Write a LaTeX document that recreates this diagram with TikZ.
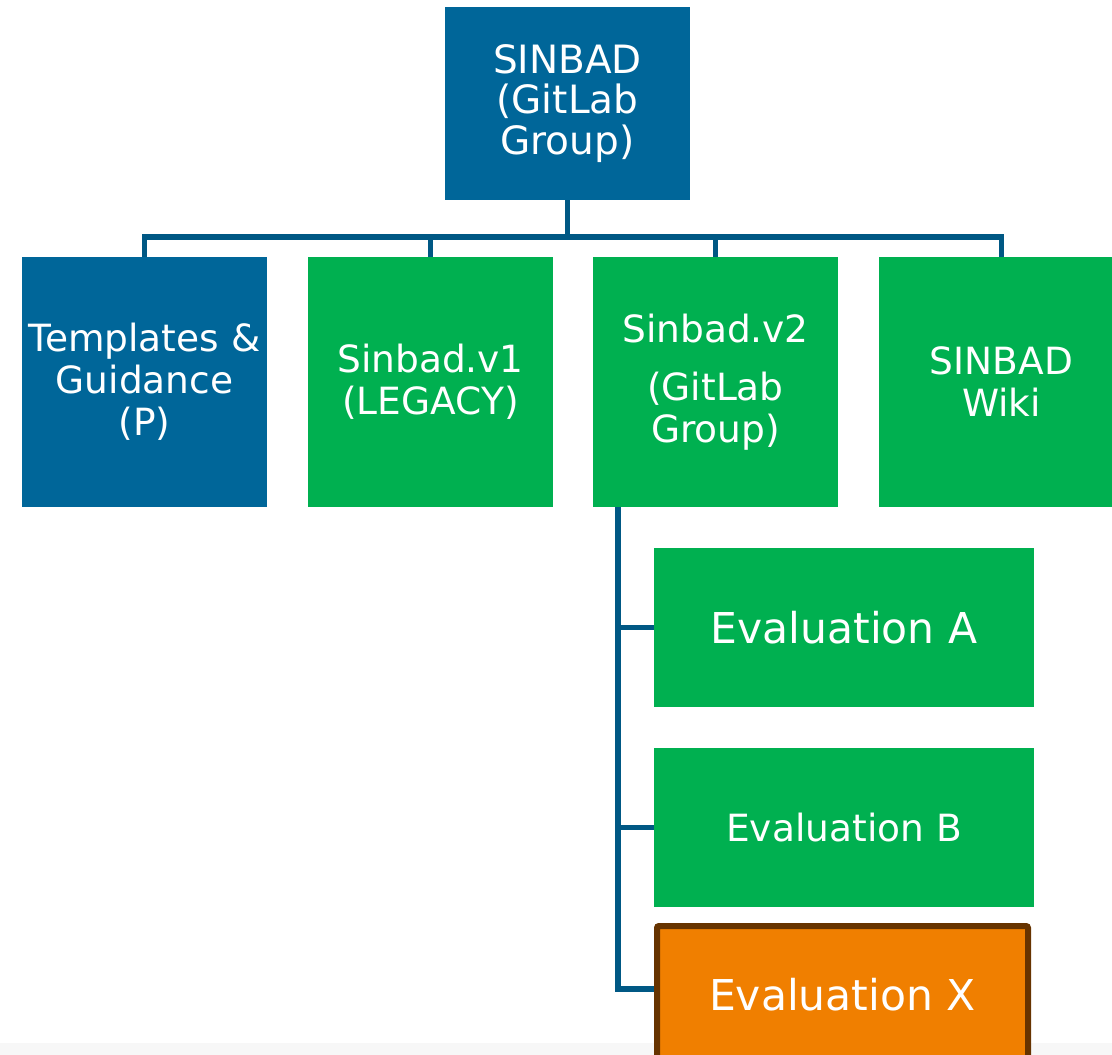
\documentclass[tikz,border=0pt]{standalone}
\usepackage{fontspec}
\setmainfont{DejaVu Sans}
\usepackage{xcolor}
\usepackage{tikz}
\usetikzlibrary{positioning,backgrounds}
\definecolor{sbblue}{RGB}{0,102,153}
\definecolor{sbgreen}{RGB}{0,176,80}
\definecolor{sborange}{RGB}{240,127,0}
\definecolor{sbbrown}{RGB}{102,51,0}
\definecolor{sblink}{RGB}{0,88,132}
\definecolor{sbband}{RGB}{247,247,247}
\tikzset{
  % --- boxes -----------------------------------------------------------------
  box/.style={rectangle,inner sep=0pt,outer sep=0pt,text=white,align=center,
              minimum width=245pt,minimum height=250pt,
              font=\fontsize{37.5}{42}\selectfont},
  groupbox/.style={box,fill=sbblue},             % GitLab group / project
  repobox/.style={box,fill=sbgreen},             % repositories
  evalbox/.style={box,fill=sbgreen,minimum width=380pt,minimum height=159pt},
  newbox/.style={evalbox,fill=sborange,draw=sbbrown,line width=6pt,
                 rounded corners=2pt,minimum width=371pt,minimum height=138pt},
  % --- connectors ------------------------------------------------------------
  link/.style={draw=sblink,line width=5.5pt},
}

\begin{document}
\begin{tikzpicture}[x=1pt, y=-1pt]
  \clip (0,0) rectangle (1112,1055);

  \node[groupbox,minimum height=193pt,font=\fontsize{39}{40.5}\selectfont]
        (root) at (567.5,103.5) {SINBAD\\(GitLab\\Group)};

  \node[groupbox] (tmpl) at (144.5,382)  {Templates \&\\Guidance\\(P)};
  \node[repobox]  (vone) at (430.5,382)  {Sinbad.v1\\(LEGACY)};
  \node[repobox]  (vtwo) at (715.5,382)  {Sinbad.v2\\[16pt](GitLab\\Group)};
  \node[repobox]  (wiki) at (1001.5,382) {SINBAD\\Wiki};

  \node[evalbox,font=\fontsize{42.5}{48}\selectfont] (evala) at (844,627.5)
        {Evaluation A};
  \node[evalbox,font=\fontsize{37.5}{42}\selectfont] (evalb) at (844,827.5)
        {Evaluation B};
  \node[newbox,font=\fontsize{42.5}{48}\selectfont]  (evalx) at (842.5,995)
        {Evaluation X};

  \coordinate (bus)   at (0,237);
  \coordinate (spine) at (618,0);

  \begin{scope}[on background layer]
    \fill[sbband] (0,1043) rectangle (1112,1055);
    % top level
    \draw[link] (root.south) -- (root.south |- bus);
    \draw[link] (tmpl.north) -- (tmpl.north |- bus) -- (wiki.north |- bus)
                -- (wiki.north);
    \draw[link] (vone.north) -- (vone.north |- bus);
    \draw[link] (vtwo.north) -- (vtwo.north |- bus);
    % evaluations under Sinbad.v2
    \draw[link] (vtwo.south -| spine) |- ([yshift=6pt]evalx.west);
    \draw[link] (spine |- evala.west) -- (evala.west);
    \draw[link] (spine |- evalb.west) -- (evalb.west);
  \end{scope}
\end{tikzpicture}
\end{document}
